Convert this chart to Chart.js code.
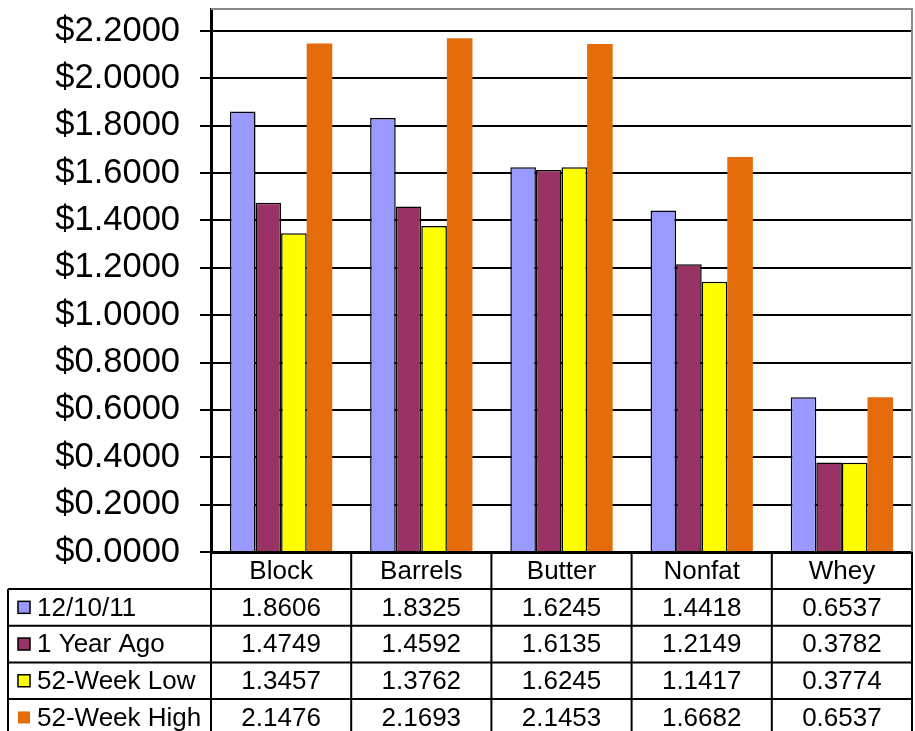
<!DOCTYPE html>
<html>
<head>
<meta charset="utf-8">
<script src="https://cdn.jsdelivr.net/npm/chart.js@4/dist/chart.umd.min.js"></script>
<style>
  html, body { margin: 0; padding: 0; background: #fff; }
  #wrap { width: 915px; height: 731px; }
</style>
</head>
<body>
<div id="wrap"><canvas id="chart" width="915" height="731"></canvas></div>
<script>
// categories and series
let categories = ['Block', 'Barrels', 'Butter', 'Nonfat', 'Whey'];
let seriesNames = ['12/10/11', '1 Year Ago', '52-Week Low', '52-Week High'];
let current = [1.8606, 1.8325, 1.6245, 1.4418, 0.6537];
let yearAgo = [1.4749, 1.4592, 1.6135, 1.2149, 0.3782];
let weekLow = [1.3457, 1.3762, 1.6245, 1.1417, 0.3774];
let weekHigh = [2.1476, 2.1693, 2.1453, 1.6682, 0.6537];
let yTicks = [0, 0.2, 0.4, 0.6, 0.8, 1.0, 1.2, 1.4, 1.6, 1.8, 2.0, 2.2];

let colors = ['#9999FF', '#993366', '#FFFF00', '#E46C0A'];
let borders = [1.5, 1.5, 1.5, 0];
let allSeries = [current, yearAgo, weekLow, weekHigh];

let FONT = "Arial, 'Liberation Sans', sans-serif";

// draws the data table under the plot, plus the grey plot frame
let tablePlugin = {
    id: 'dataTable',
    afterDraw(chart) {
        let ctx = chart.ctx;
        let area = chart.chartArea;
        let x = chart.scales.x;
        let colW = (area.right - area.left) / categories.length;
        let headH = 37;
        let rowH = 36.7;
        let tableLeft = 8;

        ctx.save();

        // frame top + right
        ctx.strokeStyle = '#888';
        ctx.lineWidth = 2;
        ctx.beginPath();
        ctx.moveTo(area.left, area.top);
        ctx.lineTo(area.right, area.top);
        ctx.lineTo(area.right, area.bottom);
        ctx.stroke();

        ctx.strokeStyle = '#000';
        ctx.lineWidth = 2;

        let headTop = area.bottom;
        let bodyTop = headTop + headH;
        let bodyBottom = bodyTop + rowH * seriesNames.length;

        // vertical lines
        ctx.beginPath();
        for (let i = 0; i <= categories.length; i++) {
            let xx = area.left + i * colW;
            ctx.moveTo(xx, headTop);
            ctx.lineTo(xx, bodyBottom);
        }
        ctx.moveTo(tableLeft, bodyTop);
        ctx.lineTo(tableLeft, bodyBottom);
        // horizontal lines
        for (let r = 0; r <= seriesNames.length; r++) {
            let yy = bodyTop + r * rowH;
            ctx.moveTo(tableLeft, yy);
            ctx.lineTo(area.right, yy);
        }
        ctx.stroke();

        ctx.fillStyle = '#000';
        ctx.font = '26px ' + FONT;
        ctx.textBaseline = 'middle';

        // header
        ctx.textAlign = 'center';
        categories.forEach((c, i) => {
            ctx.fillText(c, x.getPixelForValue(i), headTop + headH / 2 + 1);
        });

        // rows
        seriesNames.forEach((name, r) => {
            let cy = bodyTop + r * rowH + rowH / 2 + 1;
            // swatch
            ctx.fillStyle = colors[r];
            ctx.fillRect(18, cy - 7, 12, 12);
            if (borders[r] > 0) {
                ctx.strokeStyle = '#000';
                ctx.lineWidth = 1.5;
                ctx.strokeRect(18, cy - 7, 12, 12);
            }
            ctx.fillStyle = '#000';
            ctx.textAlign = 'left';
            ctx.fillText(name, 37, cy);
            ctx.textAlign = 'center';
            allSeries[r].forEach((v, i) => {
                ctx.fillText(v.toFixed(4), x.getPixelForValue(i), cy);
            });
        });

        ctx.restore();
    }
};

let datasets = seriesNames.map((name, i) => ({
    label: name,
    data: allSeries[i],
    backgroundColor: colors[i],
    borderColor: '#000',
    borderWidth: borders[i],
    borderSkipped: 'bottom',
    barPercentage: 1,
    categoryPercentage: 0.73
}));

new Chart(document.getElementById('chart'), {
    type: 'bar',
    data: { labels: categories, datasets: datasets },
    options: {
        responsive: false,
        animation: false,
        layout: { padding: { top: 9, right: 3, left: 0, bottom: 0 } },
        plugins: {
            legend: { display: false },
            tooltip: { enabled: false }
        },
        scales: {
            x: {
                ticks: { display: false },
                grid: { display: false },
                border: { color: '#000', width: 3 },
                afterFit: (scale) => { scale.height = 179; }
            },
            y: {
                min: 0,
                max: 2.293,
                afterBuildTicks: (scale) => {
                    scale.ticks = yTicks.map(v => ({ value: v }));
                },
                ticks: {
                    color: '#000',
                    padding: 20,
                    font: { family: FONT, size: 34.5 },
                    callback: (v) => '$' + Number(v).toFixed(4)
                },
                grid: { color: '#000', lineWidth: 2, tickLength: 11 },
                border: { color: '#000', width: 3 },
                afterFit: (scale) => {
                    scale.width = 211;
                    scale.paddingTop = 0;
                    scale.paddingBottom = 0;
                }
            }
        }
    },
    plugins: [tablePlugin]
});
</script>
</body>
</html>
